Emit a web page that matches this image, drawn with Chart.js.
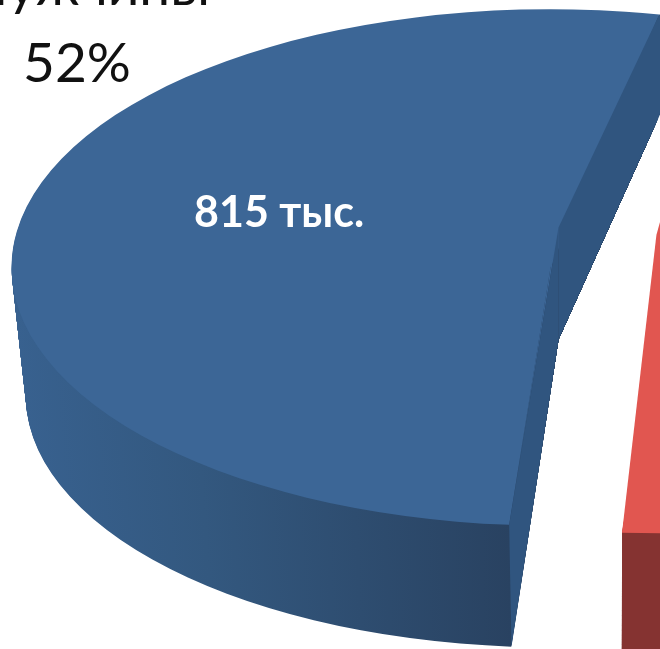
<!DOCTYPE html>
<html>
<head>
<meta charset="utf-8">
<style>
  html, body { margin: 0; padding: 0; background: #fff; overflow: hidden; }
  #chart { display: block; }
</style>
<script src="https://cdn.jsdelivr.net/npm/chart.js@4"></script>
</head>
<body>
<canvas id="chart" width="660" height="649"></canvas>
<script>
const categories = ['Мужчины', 'Женщины'];
const values = [815, 752];
const shares = ['52%', '48%'];
const valueLabels = ['815 тыс.', '752 тыс.'];

const topColors = ['#3c6696', '#e15650'];
const faceColor = '#30557f';
const wallStops = [
  [[12, '#38618f'], [200, '#33587f'], [510, '#294261']],
  [[622, '#853331'], [660, '#853331']]
];
const pullOut = [54, 60];
const tipNudge = [8, -7];

// where the flattened pie sits on the page
const CX = 604, CY = 271, RX = 539, FLAT = 0.479;
const DEPTH = 128, SHRINK = 0.024;
const TIP_LIFT = 40, TIP_DEPTH = 112, RIM_DEPTH = 100;

function arcOffset(arc, i) {
  const mid = (arc.startAngle + arc.endAngle) / 2;
  return [Math.cos(mid) * pullOut[i], Math.sin(mid) * pullOut[i]];
}

function place(ctx, arc, i, t) {
  const s = 1 - SHRINK * t;
  const [ox, oy] = arcOffset(arc, i);
  ctx.translate(CX, CY + DEPTH * t);
  ctx.scale(s, FLAT * s);
  ctx.translate(ox - arc.x, oy - arc.y);
}

function rimPoint(arc, i, angle, t) {
  const s = 1 - SHRINK * t;
  const [ox, oy] = arcOffset(arc, i);
  return [
    CX + s * (ox + RX * Math.cos(angle)),
    CY + DEPTH * t + FLAT * s * (oy + RX * Math.sin(angle))
  ];
}

// centre of the ellipse, and the slice tip the picture shows above it
function centrePoint(arc, i) {
  const [ox, oy] = arcOffset(arc, i);
  return [CX + ox, CY + FLAT * oy];
}

function tipPoint(arc, i) {
  const c = centrePoint(arc, i);
  return [c[0] + tipNudge[i], c[1] - TIP_LIFT];
}

function polygon(ctx, pts) {
  ctx.beginPath();
  pts.forEach((p, i) => i ? ctx.lineTo(p[0], p[1]) : ctx.moveTo(p[0], p[1]));
  ctx.closePath();
}

function blueEdges(arc) {
  const tip = tipPoint(arc, 0);
  const tipLow = [tip[0], tip[1] + TIP_DEPTH];
  const rimA = rimPoint(arc, 0, arc.endAngle, 0);
  const rimALow = [rimA[0], rimA[1] + RIM_DEPTH];
  const rimB = rimPoint(arc, 0, arc.startAngle, 0);
  const rimBLow = rimPoint(arc, 0, arc.startAngle, 1);
  return { tip, tipLow, rimA, rimALow, rimB, rimBLow };
}

const pie3d = {
  id: 'pie3d',
  beforeDatasetsDraw(chart) {
    const ctx = chart.ctx;
    const W = chart.width, H = chart.height;
    const arcs = chart.getDatasetMeta(0).data;
    const e = blueEdges(arcs[0]);
    // side wall: the library's arcs drawn again, stepping down
    arcs.forEach((arc, i) => {
      const [ox] = arcOffset(arc, i);
      const toLocal = x => x - CX - ox + arc.x;
      const stops = wallStops[i];
      const first = stops[0][0], last = stops[stops.length - 1][0];
      const grad = ctx.createLinearGradient(toLocal(first), 0, toLocal(last), 0);
      stops.forEach(st => grad.addColorStop((st[0] - first) / (last - first), st[1]));
      const layer = Object.create(arc);
      layer.options = { ...arc.options, backgroundColor: grad };
      ctx.save();
      if (i === 0) {
        polygon(ctx, [[0, 0], [W, 0], [W, e.rimALow[1]], e.tipLow, e.rimBLow, [e.rimBLow[0], H], [0, H]]);
        ctx.clip();
      }
      for (let n = DEPTH; n > 0; n--) {
        ctx.save();
        place(ctx, arc, i, n / DEPTH);
        layer.draw(ctx);
        ctx.restore();
      }
      ctx.restore();
    });
    // top surface
    arcs.forEach((arc, i) => {
      ctx.save();
      place(ctx, arc, i, 0);
      arc.draw(ctx);
      ctx.restore();
    });
    // patches that move the tips to where the picture has them
    const redTip = tipPoint(arcs[1], 1);
    const redRim = rimPoint(arcs[1], 1, arcs[1].endAngle, 0);
    ctx.fillStyle = topColors[1];
    polygon(ctx, [[W, redTip[1] - 13], redTip, redRim, [W, redRim[1]]]);
    ctx.fill();
    ctx.fillStyle = topColors[0];
    polygon(ctx, [e.tip, e.rimB, centrePoint(arcs[0], 0)]);
    ctx.fill();
    // the two cut faces of the pulled-out slice
    ctx.fillStyle = faceColor;
    polygon(ctx, [e.tip, e.rimB, e.rimBLow, e.tipLow]);
    ctx.fill();
    polygon(ctx, [e.tip, e.rimA, [W, e.rimA[1]], [W, e.rimALow[1]], e.tipLow]);
    ctx.fill();
    return false;
  },
  afterDraw(chart) {
    const ctx = chart.ctx;
    ctx.textBaseline = 'alphabetic';
    ctx.fillStyle = '#111';
    ctx.font = '55px Lato, "Open Sans", sans-serif';
    ctx.textAlign = 'right';
    ctx.fillText(categories[0], 210, 5);
    ctx.textAlign = 'left';
    ctx.fillText(shares[0], 23, 82);
    ctx.fillStyle = '#fff';
    ctx.font = 'bold 43px Lato, "Open Sans", sans-serif';
    ctx.fillText(valueLabels[0], 194, 227);
  }
};

const myChart = new Chart(document.getElementById('chart'), {
  type: 'pie',
  data: {
    labels: categories,
    datasets: [{
      data: values,
      backgroundColor: topColors,
      borderWidth: 0,
      radius: RX,
      clip: false
    }]
  },
  options: {
    responsive: false,
    animation: false,
    rotation: 184.4,
    layout: { padding: 0 },
    events: [],
    plugins: {
      legend: { display: false },
      tooltip: { enabled: false }
    }
  },
  plugins: [pie3d]
});
</script>
</body>
</html>
